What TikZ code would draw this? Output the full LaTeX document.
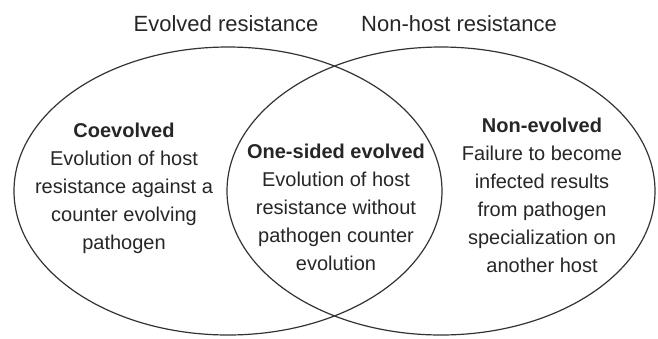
\documentclass[tikz,border=0pt]{standalone}
\usepackage{fontspec}
\setmainfont{Liberation Sans}
\usetikzlibrary{shapes.geometric}

\begin{document}
\begin{tikzpicture}[x=1pt,y=-1pt, every node/.style={text=black!85}, set/.style={ellipse,draw=black!80,line width=1.2pt,minimum width=428pt,minimum height=288pt,inner sep=0pt,outer sep=0pt}, title/.style={font=\fontsize{22}{26}\selectfont}, region/.style={align=center,font=\fontsize{20}{28}\selectfont}]
  \useasboundingbox (0,0) rectangle (658,338);
  % the two sets
  \node[set] (evolved) at (228,191) {};
  \node[set] (nonhost) at (441,191) {};
  % set names
  \node[title] (evolvedname) at (226,24) {Evolved resistance};
  \node[title] (nonhostname) at (459,24) {Non-host resistance};
  % what is in each region
  \node[region] (coevolved) at (124,188) {\textbf{Coevolved}\\Evolution of host\\resistance against a\\counter evolving\\pathogen};
  \node[region] (onesided) at (336,207) {\textbf{One-sided evolved}\\Evolution of host\\resistance without\\pathogen counter\\evolution};
  \node[region] (nonevolved) at (542,195) {\textbf{Non-evolved}\\Failure to become\\infected results\\from pathogen\\specialization on\\another host};
\end{tikzpicture}
\end{document}
